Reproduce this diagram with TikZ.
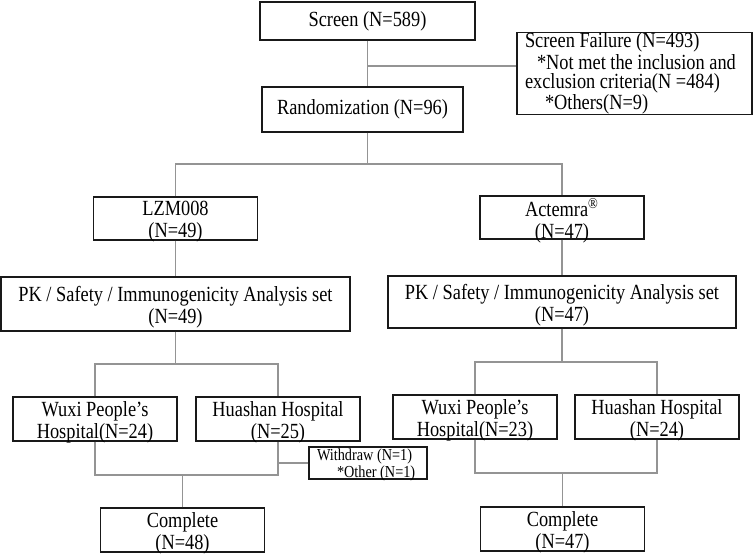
\documentclass[tikz,border=0pt]{standalone}
\usepackage{fontspec}
\setmainfont{Liberation Serif}[FakeStretch=0.85]
\begin{document}
\begin{tikzpicture}[x=0.5pt,y=-0.5pt,
  box/.style={draw=black!90, line width=0.7pt, rectangle, inner sep=0pt, align=center,
    font=\fontsize{10.8}{11}\selectfont, minimum height=22pt, minimum width=82pt},
  txt/.style={align=center, inner sep=0pt, font=\fontsize{10.8}{11}\selectfont, yshift=-1.6pt},
  conn/.style={draw=black!42, line width=0.55pt}]
\useasboundingbox (0,0) rectangle (754,554);
% boxes
\node[box, minimum width=107.5pt, minimum height=19pt] (screen) at (367.5,21) {Screen (N=589)};
\node[box, minimum width=117.5pt, minimum height=36.5pt, align=left,
  font=\fontsize{10.8}{9.6}\selectfont] (fail) at (634.5,73.5)
  {\makebox[109.5pt][l]{Screen Failure (N=493)}\\\hspace*{6pt}*Not met the inclusion and\\exclusion criteria(N =484)\\\hspace*{10pt}*Others(N=9)};
\node[box, minimum width=100.5pt, minimum height=22.5pt] (rand) at (362.5,109.5) {Randomization (N=96)};
\node[box, minimum height=21.5pt, label={[txt]center:{LZM008\\(N=49)}}] (lzm) at (175.5,218.5) {};
\node[box, minimum height=21.5pt, label={[txt]center:{Actemra\textsuperscript{®}\\(N=47)}}] (act) at (562,217.5) {};
\node[box, minimum width=174.5pt, minimum height=27pt,
  label={[txt]center:{PK / Safety / Immunogenicity Analysis set\\(N=49)}}] (pkL) at (175.5,304) {};
\node[box, minimum width=174pt, minimum height=26pt,
  label={[txt]center:{PK / Safety / Immunogenicity Analysis set\\(N=47)}}] (pkR) at (562,302) {};
\node[box, label={[txt]center:{Wuxi People’s\\Hospital(N=24)}}] (wuxiL) at (95,419) {};
\node[box, label={[txt]center:{Huashan Hospital\\(N=25)}}] (huaL) at (278,419) {};
\node[box, label={[txt]center:{Wuxi People’s\\Hospital(N=23)}}] (wuxiR) at (475,417) {};
\node[box, label={[txt]center:{Huashan Hospital\\(N=24)}}] (huaR) at (657,417) {};
\node[box, minimum width=59pt, minimum height=16pt,
  label={[txt, align=left, yshift=0.6pt, font=\fontsize{8.4}{8.5}\selectfont]center:{\makebox[55pt][l]{\hspace*{2pt}Withdraw (N=1)}\\\hspace*{12pt}*Other (N=1)}}] (wd) at (368,463) {};
\node[box, label={[txt]center:{Complete\\(N=48)}}] (compL) at (182.5,530) {};
\node[box, label={[txt]center:{Complete\\(N=47)}}] (compR) at (562.5,529) {};
% junction levels
\coordinate (j1) at (367.5,66);
\coordinate (sp) at (0,164);
\coordinate (bL) at (0,364);
\coordinate (bR) at (0,362);
\coordinate (mL) at (0,475);
\coordinate (mR) at (0,473);
% connectors
\draw[conn] (screen.south) -- (screen.south |- rand.north);
\draw[conn] (j1) -- (j1 -| fail.west);
\draw[conn] (rand.south -| screen.south) -- (screen.south |- sp);
\draw[conn] (lzm.north) -- (lzm.north |- sp) -- (act.north |- sp) -- (act.north);
\draw[conn] (lzm.south) -- (lzm.south |- pkL.north);
\draw[conn] (act.south) -- (act.south |- pkR.north);
\draw[conn] (pkL.south) -- (pkL.south |- bL);
\draw[conn] (wuxiL.north) -- (wuxiL.north |- bL) -- (huaL.north |- bL) -- (huaL.north);
\draw[conn] (pkR.south) -- (pkR.south |- bR);
\draw[conn] (wuxiR.north) -- (wuxiR.north |- bR) -- (huaR.north |- bR) -- (huaR.north);
\draw[conn] (wuxiL.south) -- (wuxiL.south |- mL) -- (huaL.south |- mL) -- (huaL.south);
\draw[conn] (wd.west) -- (wd.west -| huaL.south);
\draw[conn] (compL.north) -- (compL.north |- mL);
\draw[conn] (wuxiR.south) -- (wuxiR.south |- mR) -- (huaR.south |- mR) -- (huaR.south);
\draw[conn] (compR.north) -- (compR.north |- mR);
\end{tikzpicture}
\end{document}
